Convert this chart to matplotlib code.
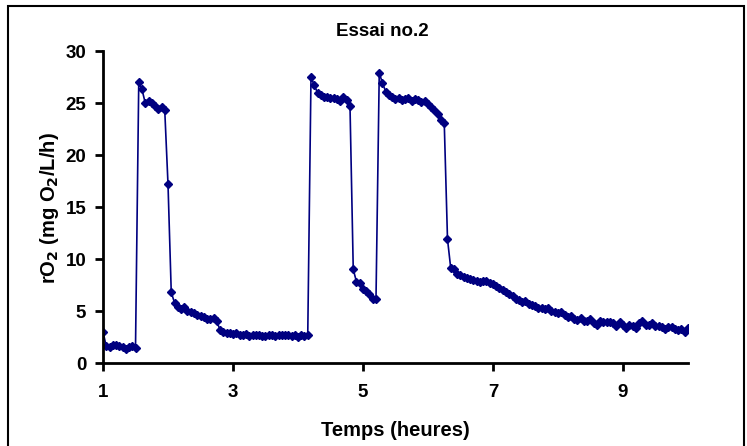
import matplotlib
matplotlib.use("Agg")
import matplotlib.pyplot as plt
from matplotlib.patches import Rectangle
import numpy as np

plt.rcParams['font.family'] = ['Liberation Sans', 'DejaVu Sans']

title = "Essai no.2"
xlabel = "Temps (heures)"
ylabel = r"rO$_\mathbf{2}$ (mg O$_\mathbf{2}$/L/h)"
xticks = [1, 3, 5, 7, 9]
yticks = [0, 5, 10, 15, 20, 25, 30]

# readings every 3 minutes (0.05 h), starting at hour 1
start_hour = 1.0
step_hour = 0.05

ro2 = [
    # before first aeration
    3.0, 1.6, 1.5, 1.7, 1.7, 1.6, 1.5, 1.3, 1.5, 1.6, 1.4,
    # first high
    27.0, 26.3, 25.0, 25.2, 25.0, 24.7, 24.4, 24.6, 24.3, 17.2,
    # first low
    6.8, 5.8, 5.4, 5.2, 5.4, 5.0, 4.9, 4.8, 4.6, 4.5, 4.4, 4.2, 4.2, 4.3, 4.0,
    3.2, 3.0, 2.9, 2.9, 2.8, 2.9, 2.7, 2.7, 2.8, 2.6, 2.7, 2.7, 2.7, 2.6, 2.6,
    2.7, 2.7, 2.6, 2.7, 2.7, 2.7, 2.7, 2.6, 2.7, 2.5, 2.7, 2.6, 2.7,
    # second high
    27.5, 26.7, 26.0, 25.8, 25.6, 25.6, 25.5, 25.5, 25.4, 25.2, 25.6, 25.3, 24.7,
    # second low
    9.0, 7.8, 7.7, 7.1, 6.9, 6.6, 6.2, 6.2,
    # third high
    27.9, 26.9, 26.1, 25.8, 25.6, 25.4, 25.5, 25.3, 25.4, 25.5, 25.2, 25.4,
    25.3, 25.1, 25.2, 24.9, 24.6, 24.3, 23.9, 23.4, 23.1,
    # decline
    11.9, 9.1, 9.0, 8.6, 8.5, 8.3, 8.2, 8.1, 8.0, 7.9, 7.8, 7.9, 7.9, 7.7, 7.6,
    7.4, 7.2, 7.0, 6.8, 6.6, 6.4, 6.2, 6.1, 5.9, 6.0, 5.7, 5.6, 5.5, 5.3, 5.3,
    5.2, 5.3, 5.0, 4.9, 4.8, 4.9, 4.6, 4.4, 4.5, 4.2, 4.1, 4.3, 4.0, 4.0, 4.2,
    3.8, 3.7, 4.0, 3.9, 3.9, 3.9, 3.8, 3.6, 3.9, 3.7, 3.4, 3.7, 3.6, 3.4, 3.8,
    4.0, 3.7, 3.7, 3.8, 3.6, 3.6, 3.5, 3.3, 3.5, 3.5, 3.3, 3.2, 3.3, 3.0, 3.4,
]

hours = start_hour + step_hour * np.arange(len(ro2))

fig = plt.figure(figsize=(7.47, 4.46), dpi=100)
ax = fig.add_axes([103 / 747, 83 / 446, 585 / 747, 312 / 446])

ax.plot(hours, ro2, "-", color="#000080", lw=1.2, marker="D", ms=3.6,
        mec="#000080", mfc="#000080")

ax.set_xlim(1, 10)
ax.set_ylim(0, 30)
ax.set_xticks(xticks)
ax.set_yticks(yticks)

for s in ["top", "right"]:
    ax.spines[s].set_visible(False)
for s in ["left", "bottom"]:
    ax.spines[s].set_linewidth(2)
ax.tick_params(direction="out", length=6, width=2)
ax.tick_params(axis="y", pad=6)
ax.tick_params(axis="x", pad=9)
for lab in ax.get_xticklabels() + ax.get_yticklabels():
    lab.set_fontsize(13.5)
    lab.set_fontweight("bold")

fig.text(382 / 747, 1 - 31 / 446, title, ha="center", va="center",
         fontsize=13.5, fontweight="bold")
fig.text(395 / 747, 1 - 431 / 446, xlabel, ha="center", va="center",
         fontsize=14.5, fontweight="bold")
fig.text(50 / 747, 1 - 208 / 446, ylabel, ha="center", va="center",
         rotation=90, fontsize=14.5, fontweight="bold")

# chart frame
fig.patches.append(Rectangle((8 / 747, -0.2), 736 / 747, 1.2 - 6 / 446,
                             transform=fig.transFigure, fill=False,
                             lw=1.5, ec="black"))

fig.savefig("out.png", dpi=100)
